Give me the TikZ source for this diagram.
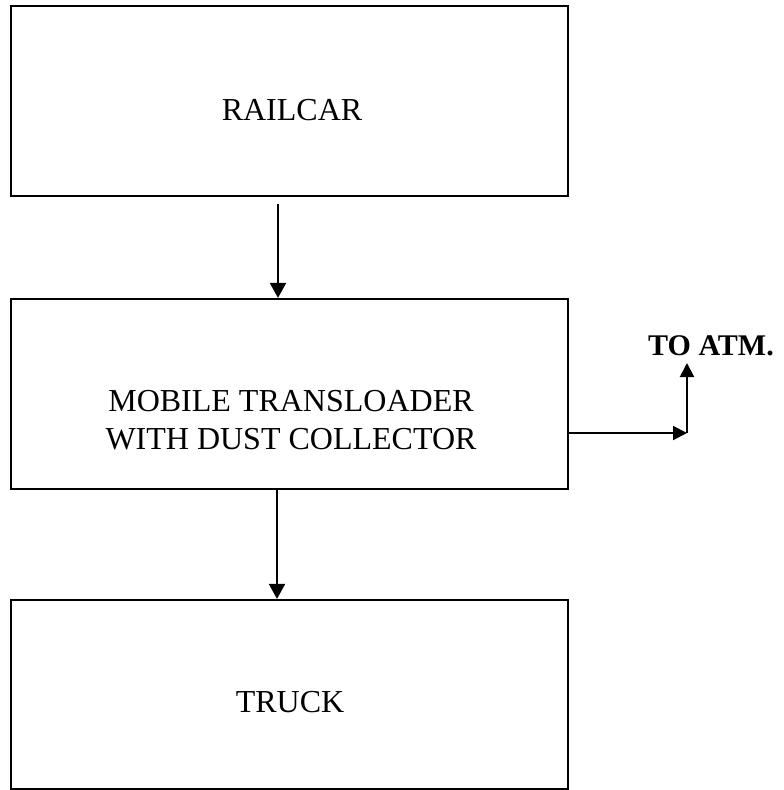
\documentclass[tikz,border=0pt]{standalone}
\usepackage{fontspec}
\setmainfont{Liberation Serif}
\usetikzlibrary{arrows.meta}
\tikzset{
  box/.style={draw, line width=2.2pt, minimum width=557pt, inner sep=0pt},
  lbl/.style={inner sep=0pt, align=center, font=\fontsize{32}{38}\selectfont},
  atmlbl/.style={inner sep=0pt, font=\fontsize{30}{36}\selectfont\bfseries},
  arr/.style={line width=2pt, -{Triangle[length=15pt,width=16pt]}},
  sarr/.style={line width=2pt, -{Triangle[length=14pt,width=14pt]}}
}
\begin{document}
\begin{tikzpicture}[x=1pt,y=-1pt]
\useasboundingbox (0,0) rectangle (784,790);
\node[box, minimum height=190pt] (rail) at (289.5,101) {};
\node[box, minimum height=190pt] (mid) at (289.5,394) {};
\node[box, minimum height=189pt] (truck) at (289.5,694.5) {};
\node[lbl] (railtxt) at (292,110) {RAILCAR};
\node[lbl] (midtxt) at (291,420) {MOBILE TRANSLOADER\\WITH DUST COLLECTOR};
\node[lbl] (trucktxt) at (290,702) {TRUCK};
\node[atmlbl] (atm) at (711,346) {TO ATM.};
\coordinate (bend) at (687,433);
\coordinate (atmtip) at (687,363);
\draw[arr] ([xshift=-11.5pt,yshift=-7pt]rail.south) -- ([xshift=-11.5pt]mid.north);
\draw[arr] ([xshift=-12.5pt]mid.south) -- ([xshift=-12.5pt]truck.north);
\draw[sarr] (mid.east |- bend) -- (bend);
\draw[sarr] (bend) -- (atmtip);
\end{tikzpicture}
\end{document}
